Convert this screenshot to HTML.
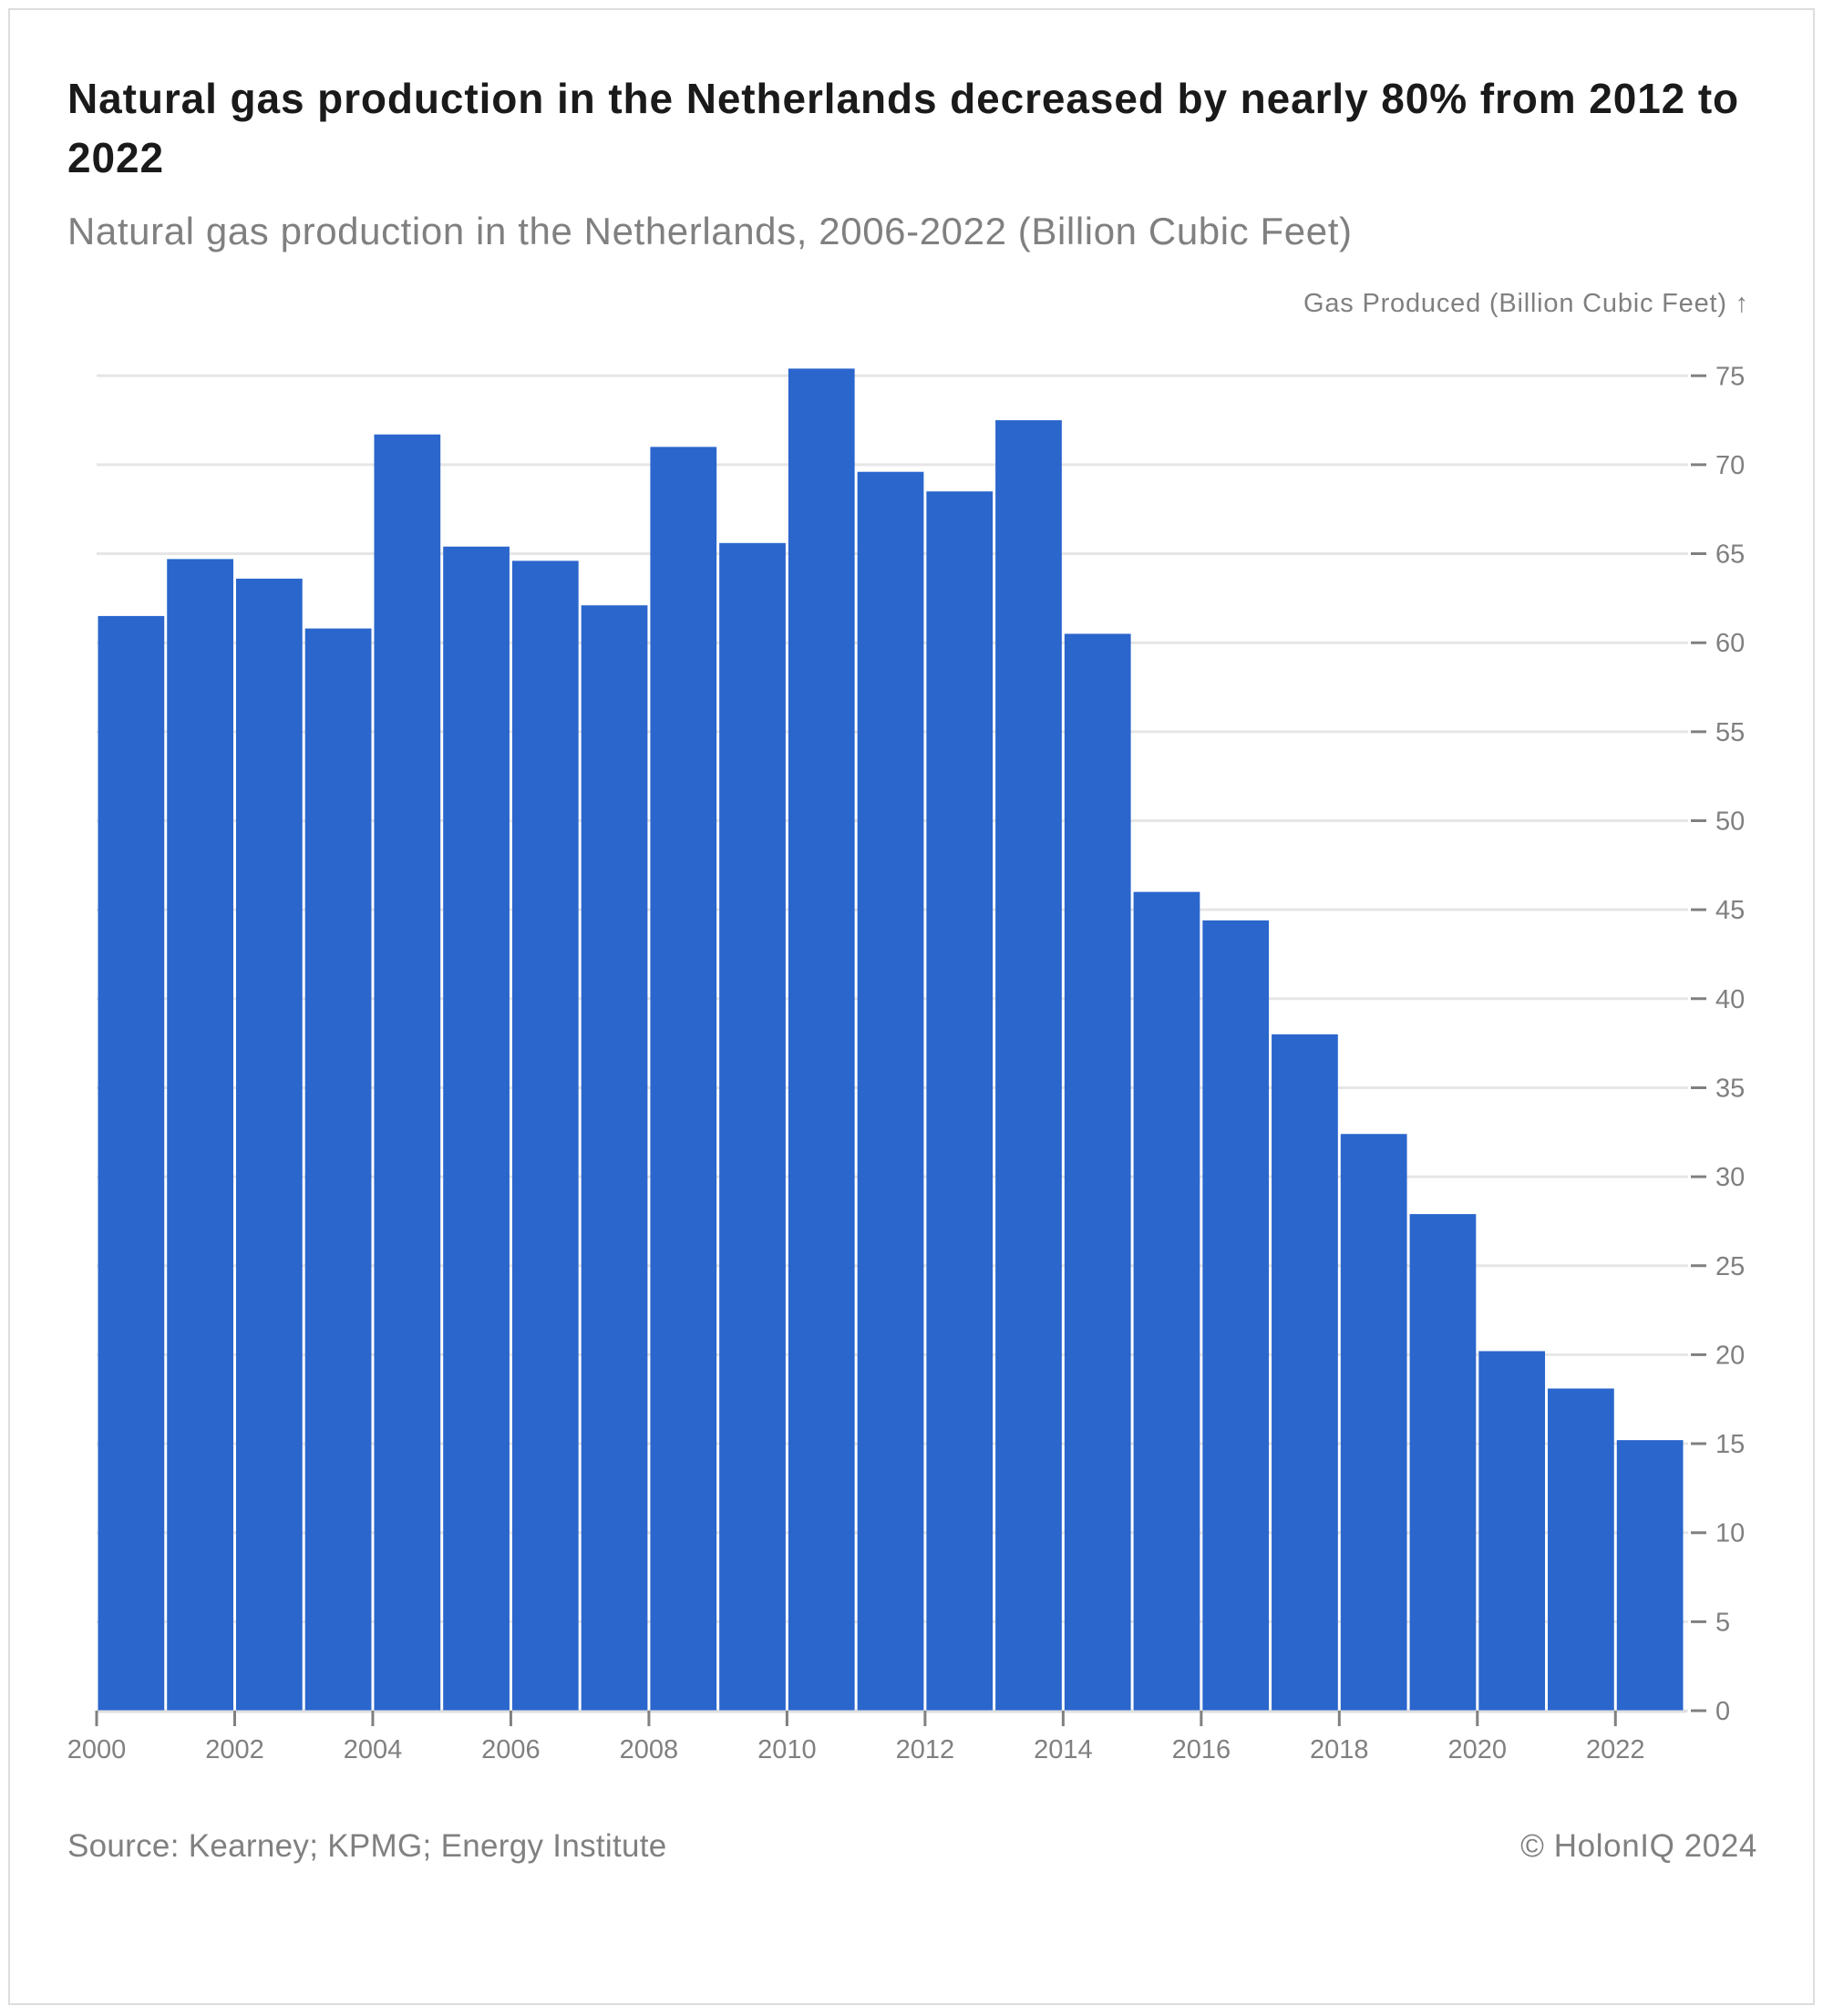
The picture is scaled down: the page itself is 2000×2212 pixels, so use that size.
<!DOCTYPE html>
<html><head><meta charset="utf-8"><style>
html,body{margin:0;padding:0;background:#fff}
body{width:2000px;height:2212px;position:relative;font-family:"Liberation Sans",sans-serif}
.frame{position:absolute;left:9px;top:9px;width:1982px;height:2191px;border:2px solid #ddd;box-sizing:border-box}
.title{position:absolute;left:74px;top:76px;width:1900px;font-size:46px;font-weight:bold;color:#1a1a1a;line-height:65px;letter-spacing:0.9px}
.sub{position:absolute;left:74px;top:230px;font-size:42px;color:#808080;letter-spacing:0.6px}
.src{position:absolute;left:74px;top:2006px;font-size:35px;color:#808080;letter-spacing:0.3px}
.cr{position:absolute;right:72px;top:2006px;font-size:35px;color:#808080;letter-spacing:0.6px}
svg{position:absolute;left:0;top:0}
</style></head><body>
<div class="frame"></div>
<div class="title">Natural gas production in the Netherlands decreased by nearly 80% from 2012 to<br>2022</div>
<div class="sub">Natural gas production in the Netherlands, 2006-2022 (Billion Cubic Feet)</div>
<div class="src">Source: Kearney; KPMG; Energy Institute</div>
<div class="cr">© HolonIQ 2024</div>
<svg id="chart" width="2000" height="2212"></svg>
<script>
const years=[2000,2001,2002,2003,2004,2005,2006,2007,2008,2009,2010,2011,2012,2013,2014,2015,2016,2017,2018,2019,2020,2021,2022];
const values=[61.5,64.7,63.6,60.8,71.7,65.4,64.6,62.1,71.0,65.6,75.4,69.6,68.5,72.5,60.5,46.0,44.4,38.0,32.4,27.9,20.2,18.1,15.2];
const yTicks=[0,5,10,15,20,25,30,35,40,45,50,55,60,65,70,75];
const xTicks=[2000,2002,2004,2006,2008,2010,2012,2014,2016,2018,2020,2022];
const NS='http://www.w3.org/2000/svg';
const svg=document.getElementById('chart');
const x0=106,unit=75.74,y0=1877,yu=19.53,gridEnd=1852;
const X=v=>x0+(v-2000)*unit;
const Y=v=>y0-v*yu;
function mk(t,a){const e=document.createElementNS(NS,t);for(const k in a)e.setAttribute(k,a[k]);svg.appendChild(e);return e;}
yTicks.forEach(t=>{
 const g=mk('line',{x1:x0,x2:gridEnd,y1:Y(t),y2:Y(t),stroke:'#e6e6e6','stroke-width':3});
 
 
 const tk=mk('line',{x1:1855,x2:1872,y1:Y(t),y2:Y(t),stroke:'#808080','stroke-width':3});
 
 
 const tx=mk('text',{x:1882,y:Y(t)+10,'font-size':29,fill:'#808080'});
 tx.textContent=t;
 
 
});
years.forEach((yr,i)=>{
 const r=mk('rect',{x:X(yr)+1.5,y:Y(values[i]),width:unit-3,height:values[i]*yu,fill:'#2a66cc'});
 
 
});
const ax=mk('line',{x1:x0,x2:1850,y1:y0+1,y2:y0+1,stroke:'#e0e0e0','stroke-width':3});


xTicks.forEach(t=>{
 const tk=mk('line',{x1:X(t),x2:X(t),y1:y0,y2:y0+17,stroke:'#808080','stroke-width':3});
 
 
 const tx=mk('text',{x:X(t),y:1929,'font-size':29,fill:'#808080','text-anchor':'middle'});
 tx.textContent=t;
 
 
});
const at=mk('text',{x:1919,y:342,'font-size':29,fill:'#808080','text-anchor':'end','letter-spacing':'0.8'});
at.textContent='Gas Produced (Billion Cubic Feet) ↑';


</script>
</body></html>
